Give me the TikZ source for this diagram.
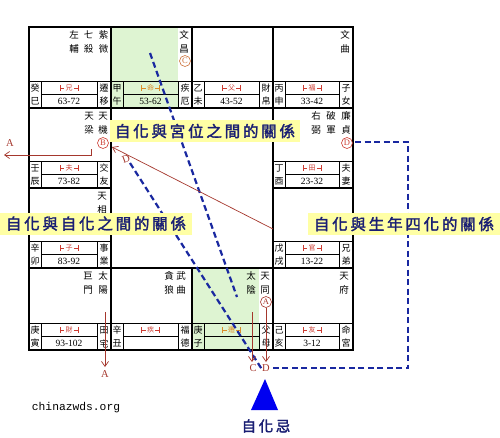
\documentclass[tikz,border=0pt]{standalone}
\usepackage{fontspec}
\usetikzlibrary{arrows.meta}
\setmainfont{Liberation Serif}
\newfontfamily\cjk{Noto Sans CJK TC}
\newfontfamily\cjkbold{Noto Sans CJK TC}[FakeBold=2,LetterSpace=18]
\newfontfamily\monof{Liberation Mono}
\definecolor{greenbg}{RGB}{222,244,210}
\definecolor{dashblue}{RGB}{25,40,160}
\definecolor{arrred}{RGB}{165,55,45}
\definecolor{mkred}{RGB}{205,60,50}
\definecolor{mkorange}{RGB}{220,140,40}
\definecolor{circorange}{RGB}{205,115,60}
\definecolor{hlyellow}{RGB}{255,255,165}
\definecolor{navy}{RGB}{25,30,115}
\definecolor{triblue}{RGB}{0,0,240}
\tikzset{
  startxt/.style={font=\cjk\fontsize{9.5}{10}\selectfont, inner sep=0pt},
  bandtxt/.style={font=\cjk\fontsize{9}{9}\selectfont, inner sep=0pt},
  yrtxt/.style={font=\fontsize{9.5}{10}\selectfont, inner sep=0pt},
  mktxt/.style={font=\cjk\fontsize{7}{7}\selectfont, inner sep=0pt},
  cellborder/.style={line width=1.5pt},
  bandline/.style={line width=0.8pt},
  bluedash/.style={draw=dashblue, line width=2.2pt, dash pattern=on 6pt off 3.5pt},
  redarr/.style={draw=arrred, line width=0.7pt, -{Straight Barb[length=5pt,width=7pt]}},
  redlab/.style={text=arrred, font=\fontsize{10.5}{10}\selectfont, inner sep=0pt},
  circ/.style={circle, draw, inner sep=0pt, minimum size=11pt, line width=0.6pt, font=\fontsize{8.5}{8}\selectfont},
  hilite/.style={fill=hlyellow, text=navy, font=\cjkbold\fontsize{15.5}{16}\selectfont, inner sep=0pt, minimum height=22pt},
}
\newcommand{\xing}[5]{%
  \node[startxt] (#1a) at (#2,#3) {#4};
  \node[startxt] (#1b) at (#2,#3+14) {#5};}
\newcommand{\gongband}[4]{%
  \def\gid{#1}%
  \pgfmathsetmacro\gL{#2}\pgfmathsetmacro\gR{#3}\pgfmathsetmacro\gB{#4}%
  \pgfmathsetmacro\gT{#4-27}\pgfmathsetmacro\gM{#4-13.5}%
  \pgfmathsetmacro\gLi{#2+12}\pgfmathsetmacro\gRi{#3-14}%
  \pgfmathsetmacro\gX{(#2+12+#3-14)/2}%
  \draw[bandline] (\gL,\gT) -- (\gR,\gT);
  \draw[bandline] (\gLi,\gT) -- (\gLi,\gB);
  \draw[bandline] (\gRi,\gT) -- (\gRi,\gB);
  \draw[bandline] (\gLi,\gM) -- (\gRi,\gM);}
\newcommand{\gongtext}[7]{%
  \node[bandtxt] (\gid-s1) at (\gL+6,\gT+7) {#1};
  \node[bandtxt] (\gid-s2) at (\gL+6,\gT+20.5) {#2};
  \node[bandtxt] (\gid-n1) at (\gR-7,\gT+7) {#6};
  \node[bandtxt] (\gid-n2) at (\gR-7,\gT+20.5) {#7};
  \node[yrtxt] (\gid-y) at (\gX,\gT+20.5) {#5};
  \node[mktxt,text=#4] (\gid-m) at (\gX,\gT+7) {#3};
  \draw[#4,line width=0.6pt] (\gX-9,\gT+4) -- (\gX-9,\gT+10)
     (\gX-9,\gT+7) -- (\gX-4.8,\gT+7) (\gX+4.8,\gT+7) -- (\gX+9,\gT+7)
     (\gX+9,\gT+4) -- (\gX+9,\gT+10);}
\begin{document}
\begin{tikzpicture}[x=1pt,y=-1pt]
\useasboundingbox (0,0) rectangle (500,437);
\fill[white] (0,0) rectangle (500,437);
% green cells
\fill[greenbg] (111,27) rectangle (178,108);
\fill[greenbg] (192,268) rectangle (259,350);
% bands
\gongband{g1}{29}{111}{108}\gongtext{癸}{巳}{兄}{mkred}{63-72}{遷}{移}
\gongband{g2}{111}{192}{108}\gongtext{甲}{午}{命}{mkorange}{53-62}{疾}{厄}
\gongband{g3}{192}{273}{108}\gongtext{乙}{未}{父}{mkred}{43-52}{財}{帛}
\gongband{g4}{273}{353}{108}\gongtext{丙}{申}{福}{mkred}{33-42}{子}{女}
\gongband{g5}{29}{111}{188}\gongtext{壬}{辰}{夫}{mkred}{73-82}{交}{友}
\gongband{g6}{273}{353}{188}\gongtext{丁}{酉}{田}{mkred}{23-32}{夫}{妻}
\gongband{g7}{29}{111}{268}\gongtext{辛}{卯}{子}{mkred}{83-92}{事}{業}
\gongband{g8}{273}{353}{268}\gongtext{戊}{戌}{官}{mkred}{13-22}{兄}{弟}
\gongband{g9}{29}{111}{350}\gongtext{庚}{寅}{財}{mkred}{93-102}{田}{宅}
\gongband{g10}{111}{192}{350}\gongtext{辛}{丑}{疾}{mkred}{}{福}{德}
\gongband{g11}{192}{273}{350}\gongtext{庚}{子}{遷}{mkorange}{}{父}{母}
\gongband{g12}{273}{353}{350}\gongtext{己}{亥}{友}{mkred}{3-12}{命}{宮}
% cell borders
\draw[cellborder] (29,27) rectangle (353,350);
\draw[cellborder] (29,108) -- (353,108) (29,268) -- (353,268);
\draw[cellborder] (29,188) -- (111,188) (273,188) -- (353,188);
\draw[cellborder] (111,27) -- (111,350) (273,27) -- (273,350);
\draw[cellborder] (192,27) -- (192,108) (192,268) -- (192,350);
% stars
\xing{ziwei}{103.5}{35}{紫}{微}
\xing{qisha}{88.5}{35}{七}{殺}
\xing{zuofu}{74}{35}{左}{輔}
\xing{wenchang}{184}{35}{文}{昌}
\xing{wenqu}{345}{35}{文}{曲}
\xing{tianji}{103}{116}{天}{機}
\xing{tianliang}{89}{116}{天}{梁}
\xing{lianzhen}{346}{116}{廉}{貞}
\xing{pojun}{331}{116}{破}{軍}
\xing{youbi}{316}{116}{右}{弼}
\xing{tianxiang}{102}{196}{天}{相}
\xing{taiyang}{103}{276}{太}{陽}
\xing{jumen}{88}{276}{巨}{門}
\xing{wuqu}{181}{276}{武}{曲}
\xing{tanlang}{169}{276}{貪}{狼}
\xing{tiantong}{265}{276}{天}{同}
\xing{taiyin}{251}{276}{太}{陰}
\xing{tianfu}{344}{276}{天}{府}
% circled letters
\node[circ, draw=circorange, text=circorange] (cC) at (185,61) {C};
\node[circ, draw=mkred, text=mkred] (cB) at (103,143) {B};
\node[circ, draw=mkred, text=mkred] (cD) at (347,143) {D};
\node[circ, draw=arrred, text=arrred] (cA) at (266,302) {A};
% blue dashed lines
\coordinate (b1s) at (150,53);
\coordinate (b1e) at (237,297);
\coordinate (b2s) at (130,163);
\coordinate (b2e) at (263,371);
\coordinate (b3s) at (355,142);
\coordinate (b3a) at (408,142);
\coordinate (b3b) at (408,368);
\coordinate (b3e) at (273,368);
\draw[bluedash] (b1s) -- (b1e);
\draw[bluedash] (b2s) -- (b2e);
\draw[bluedash] (b3s) -- (b3a) -- (b3b) -- (b3e);
% red arrows
\coordinate (rAs) at (91,149);
\coordinate (rAm) at (91,155);
\coordinate (rAe) at (4,155);
\draw[redarr] (rAs) -- (rAm) -- (rAe);
\node[redlab] (labA1) at (10,143) {A};
\coordinate (rDs) at (273,229);
\coordinate (rDe) at (112,147);
\draw[redarr] (rDs) -- (rDe);
\node[redlab, rotate=20] (labD1) at (126,159) {D};
\coordinate (rA2s) at (105,312);
\coordinate (rA2e) at (105,367);
\draw[redarr] (rA2s) -- (rA2e);
\node[redlab] (labA2) at (105,374) {A};
\coordinate (rCs) at (252,312);
\coordinate (rCe) at (252,362);
\draw[redarr] (rCs) -- (rCe);
\node[redlab] (labC) at (253,368) {C};
\coordinate (rD2e) at (266,362);
\draw[redarr] (cA.south) -- (rD2e);
\node[redlab] (labD2) at (266,368) {D};
% highlighted labels
\node[hilite, minimum width=190pt] (h1) at (205,131) {自化與宮位之間的關係};
\node[hilite, minimum width=192pt] (h2) at (96,223.5) {自化與自化之間的關係};
\node[hilite, minimum width=192pt] (h3) at (404,224) {自化與生年四化的關係};
% triangle and label
\coordinate (tA) at (265,379);
\coordinate (tB) at (278,410);
\coordinate (tC) at (251,410);
\fill[triblue] (tA) -- (tB) -- (tC) -- cycle;
\node[text=navy, font=\cjkbold\fontsize{14.5}{14}\selectfont, inner sep=0pt] (zhj) at (266,426) {自化忌};
\node[font=\monof\fontsize{11.3}{12}\selectfont, inner sep=0pt] (site) at (76,408) {chinazwds.org};
\end{tikzpicture}
\end{document}
